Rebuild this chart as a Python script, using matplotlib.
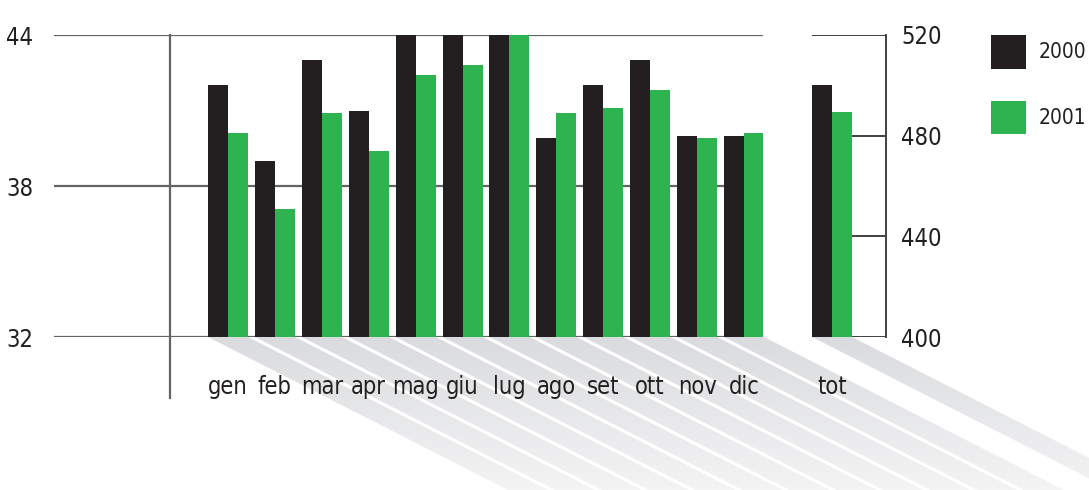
import numpy as np
import matplotlib
matplotlib.use('Agg')
import matplotlib.pyplot as plt
from matplotlib.path import Path

plt.rcParams['font.family'] = ['DejaVu Sans']
plt.rcParams['font.stretch'] = 'condensed'

# dati
mesi = ['gen', 'feb', 'mar', 'apr', 'mag', 'giu', 'lug', 'ago', 'set', 'ott', 'nov', 'dic']
v2000 = [42.0, 39.0, 43.0, 41.0, 44.0, 44.0, 44.0, 39.9, 42.0, 43.0, 40.0, 40.0]
v2001 = [40.1, 37.1, 40.9, 39.4, 42.4, 42.8, 44.0, 40.9, 41.1, 41.8, 39.9, 40.1]
tot2000 = 500
tot2001 = 489.4
anni = ['2000', '2001']

nero = '#231f20'
verde = '#2db34f'
griglia = '#636466'
W, H = 1089, 490

fig = plt.figure(figsize=(W / 100, H / 100), dpi=100)

def fx(px):
    return px / W

def fy(py):
    return 1 - py / H

# assi mesi e assi totale
ax1 = fig.add_axes([fx(54), fy(337), fx(763 - 54), fy(35) - fy(337)], zorder=2)
ax2 = fig.add_axes([fx(812), fy(337), fx(886 - 812), fy(35) - fy(337)], zorder=2)
passo = 46.9
bw = 20 / passo
x = np.arange(len(mesi))

ax1.set_xlim((54 - 228) / passo, 11 + 19 / passo)
ax1.set_ylim(32, 44)
ax2.set_xlim(-20 / passo, 54 / passo)
ax2.set_ylim(400, 520)

for ax in (ax1, ax2):
    ax.patch.set_alpha(0)
    for s in ax.spines.values():
        s.set_visible(False)

# griglia
for v in [44, 38, 32]:
    ax1.axhline(v, color=griglia, lw=1.6, zorder=1)
for v in [520, 480, 440, 400]:
    ax2.axhline(v, color='#404041', lw=1.4, zorder=1)
ax2.spines['right'].set_visible(True)
ax2.spines['right'].set_color('#404041')
ax2.spines['right'].set_linewidth(1.4)

# asse verticale sinistro
xs = (170 - 228) / passo
ax1.plot([xs, xs], [44, 32 - 61 / 25.17], color=griglia, lw=1.6, clip_on=False, zorder=1)

b1 = ax1.bar(x - bw / 2, v2000, bw, color=nero, zorder=3)
b2 = ax1.bar(x + bw / 2, v2001, bw, color=verde, zorder=3)
ax2.bar([-bw / 2], [tot2000], bw, color=nero, zorder=3)
ax2.bar([bw / 2], [tot2001], bw, color=verde, zorder=3)

fs = 17

# etichette
ax1.set_xticks(x)
ax1.set_xticklabels(mesi, fontsize=fs, color=nero)
ax1.tick_params(axis='x', length=0, pad=27)
ax1.set_yticks([32, 38, 44])
ax1.set_yticklabels(['32', '38', '44'], fontsize=fs, color=nero)
ax1.tick_params(axis='y', length=0, pad=15)

ax2.set_xticks([0])
ax2.set_xticklabels(['tot'], fontsize=fs, color=nero)
ax2.tick_params(axis='x', length=0, pad=27)
ax2.yaxis.tick_right()
ax2.set_yticks([400, 440, 480, 520])
ax2.set_yticklabels(['400', '440', '480', '520'], fontsize=fs, color=nero)
ax2.tick_params(axis='y', length=0, pad=11)

# ombre diagonali
dx, dy = 1.0, -0.51
L = 700

def ombra(ax, centri, px_u, py_u):
    verts, codes = [], []
    y0 = ax.get_ylim()[0]
    for c in centri:
        a = c - bw
        b = c + bw
        ex = L * dx / px_u
        ey = L * dy / py_u
        verts += [(a, y0), (b, y0), (b + ex, y0 + ey), (a + ex, y0 + ey), (a, y0)]
        codes += [Path.MOVETO, Path.LINETO, Path.LINETO, Path.LINETO, Path.CLOSEPOLY]
    return Path(verts, codes)

bg = fig.add_axes([0, 0, 1, 1], zorder=0)
bg.set_xlim(0, 1)
bg.set_ylim(0, 1)
bg.axis('off')
grad = np.linspace(0, 1, 256).reshape(-1, 1)
c0 = np.array([0.855, 0.86, 0.87])
c1 = np.array([1.0, 1.0, 1.0])
img = c0[None, None, :] * (1 - grad[:, :, None]) + c1[None, None, :] * grad[:, :, None]
ext = [0, 1, fy(560), fy(337)]
im1 = bg.imshow(img, extent=ext, aspect='auto', origin='upper')
im1.set_clip_path(ombra(ax1, x, passo, 25.17), ax1.transData)
im2 = bg.imshow(img, extent=ext, aspect='auto', origin='upper')
im2.set_clip_path(ombra(ax2, [0], passo, 302 / 120), ax2.transData)

# legenda
fl = 15
fig.legend([b1, b2], anni, loc='upper left', bbox_to_anchor=(fx(991), fy(35)),
           frameon=False, fontsize=fl, handlelength=35 / 20.8, handleheight=2.1,
           labelspacing=32 / 20.8, handletextpad=0.6, borderpad=0, borderaxespad=0,
           labelcolor=nero)

fig.savefig('out.png', dpi=100)
